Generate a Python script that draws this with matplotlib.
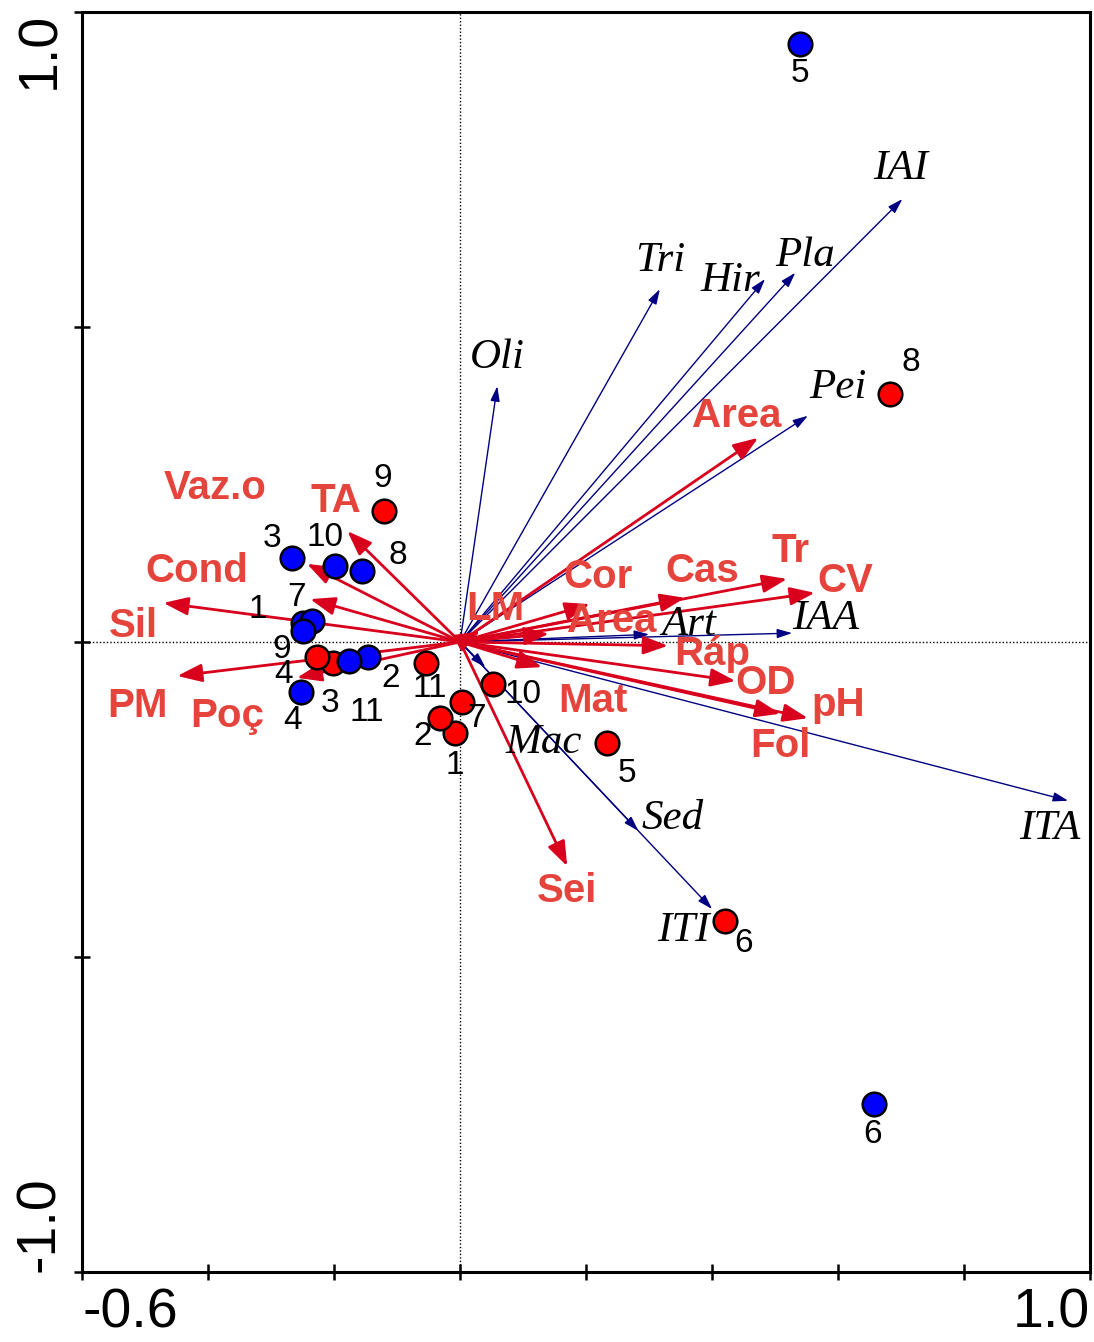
import matplotlib
matplotlib.use("Agg")
import matplotlib.pyplot as plt

# environmental variables (red arrows)
env_names = ["Area", "TA", "Vaz.o", "Cond", "Sil", "PM", "Poç", "LM", "Cor", "Cas",
             "Tr", "CV", "Area", "Ráp", "OD", "Fol", "pH", "Mat", "Sei"]
env_x = [0.473, -0.179, -0.243, -0.238, -0.471, -0.449, -0.259, 0.032, 0.206, 0.357,
         0.519, 0.563, 0.141, 0.330, 0.437, 0.508, 0.552, 0.130, 0.170]
env_y = [0.324, 0.176, 0.124, 0.068, 0.062, -0.054, -0.057, 0.017, 0.060, 0.070,
         0.100, 0.078, 0.013, -0.006, -0.062, -0.114, -0.121, -0.040, -0.356]

# taxa / indices (navy arrows)
spp_names = ["IAI", "Pla", "Hir", "Tri", "Oli", "Pei", "IAA", "Art", "Mac", "Sed", "ITI", "ITA"]
spp_x = [0.702, 0.532, 0.484, 0.317, 0.059, 0.552, 0.527, 0.300, 0.040, 0.283, 0.400, 0.965]
spp_y = [0.703, 0.586, 0.576, 0.560, 0.406, 0.359, 0.014, 0.012, -0.040, -0.300, -0.424, -0.252]

# sites, two periods
site_ids = ["1", "2", "3", "4", "5", "6", "7", "8", "9", "10", "11"]
red_x = [-0.008, -0.032, -0.202, -0.227, 0.233, 0.421, 0.003, 0.683, -0.121, 0.052, -0.054]
red_y = [-0.144, -0.121, -0.033, -0.024, -0.160, -0.443, -0.095, 0.394, 0.208, -0.067, -0.033]
blue_x = [-0.249, -0.146, -0.267, -0.252, 0.540, 0.657, -0.235, -0.156, -0.249, -0.198, -0.176]
blue_y = [0.030, -0.024, 0.133, -0.079, 0.949, -0.733, 0.033, 0.113, 0.017, 0.121, -0.030]

# label offsets in pixels (dx right, dy up)
env_off = [(-21, 22), (-11, 30), (-92, 76), (-113, 28), (-30, -23), (-40, -30), (-70, -38),
           (15, 22), (8, 27), (17, 27), (3, 28), (30, 12), (63, 13), (44, -8), (30, -2),
           (0, -32), (30, 13), (51, -34), (0, -25)]
spp_off = [(-2, 30), (10, 17), (-35, -2), (0, 28), (0, 28), (30, 28), (33, 14), (40, 10),
           (58, -76), (34, 12), (-29, -22), (-18, -28)]
red_off = [(0, -33), (-17, -18), (-3, -41), (-34, -17), (20, -31), (18, -22), (15, -17),
           (20, 31), (-1, 32), (30, -10), (4, -26)]
blue_off = [(-45, 14), (23, -21), (-20, 20), (-9, -29), (0, -29), (-1, -31), (-16, 24),
            (36, 15), (-22, -18), (-10, 28), (18, -52)]

RED_ARROW = "#d8001c"
RED_TEXT = "#e5443c"
NAVY = "#000080"

fig = plt.figure(figsize=(10.94, 13.42), dpi=100)
ax = fig.add_axes([0.075, 0.0522, 0.9215, 0.9389])
ax.set_xlim(-0.6, 1.0)
ax.set_ylim(-1.0, 1.0)

ax.axhline(0, color="black", lw=1, ls=(0, (1, 1.5)), zorder=1)
ax.axvline(0, color="black", lw=1, ls=(0, (1, 1.5)), zorder=1)

for name, x, y, (dx, dy) in zip(spp_names, spp_x, spp_y, spp_off):
    ax.annotate("", xy=(x, y), xytext=(0, 0),
                arrowprops=dict(arrowstyle="-|>,head_length=0.9,head_width=0.28",
                                color=NAVY, lw=1.0, shrinkA=0, shrinkB=0),
                zorder=2)
    ax.annotate(name, xy=(x, y), xytext=(dx, dy), textcoords="offset pixels",
                ha="center", va="center", fontsize=31, style="italic",
                family="Liberation Serif", color="black", zorder=6)

for name, x, y, (dx, dy) in zip(env_names, env_x, env_y, env_off):
    ax.annotate("", xy=(x, y), xytext=(0, 0),
                arrowprops=dict(arrowstyle="-|>,head_length=1.5,head_width=0.55",
                                color=RED_ARROW, lw=2.0, shrinkA=0, shrinkB=0),
                zorder=3)
    ax.annotate(name, xy=(x, y), xytext=(dx, dy), textcoords="offset pixels",
                ha="center", va="center", fontsize=29, fontweight="bold",
                family="Liberation Sans", color=RED_TEXT, zorder=6)

ax.plot(red_x, red_y, "o", ms=17, mfc="#ff0000", mec="black", mew=1.8, zorder=4)
ax.plot(blue_x, blue_y, "o", ms=17, mfc="#0000ff", mec="black", mew=1.8, zorder=4)

for xs, ys, offs in [(red_x, red_y, red_off), (blue_x, blue_y, blue_off)]:
    for sid, x, y, (dx, dy) in zip(site_ids, xs, ys, offs):
        ax.annotate(sid, xy=(x, y), xytext=(dx, dy), textcoords="offset pixels",
                    ha="center", va="center", fontsize=24,
                    family="Liberation Sans", color="black", zorder=6)

# axes frame and ticks
for sp in ax.spines.values():
    sp.set_linewidth(2.2)
ax.set_xticks([-0.6, -0.4, -0.2, 0.0, 0.2, 0.4, 0.6, 0.8, 1.0])
ax.set_xticklabels(["-0.6", "", "", "", "", "", "", "", "1.0"])
ax.set_yticks([-1.0, -0.5, 0.0, 0.5, 1.0])
ax.set_yticklabels(["-1.0", "", "", "", "1.0"], rotation=90)
ax.tick_params(direction="inout", length=11, width=1.8, labelsize=40, pad=6)
for lab in ax.get_xticklabels() + ax.get_yticklabels():
    lab.set_family("Liberation Sans")
xl = ax.get_xticklabels()
xl[0].set_ha("left")
xl[-1].set_ha("right")
yl = ax.get_yticklabels()
yl[0].set_va("bottom")
yl[-1].set_va("top")

fig.savefig("out.png", dpi=100)
